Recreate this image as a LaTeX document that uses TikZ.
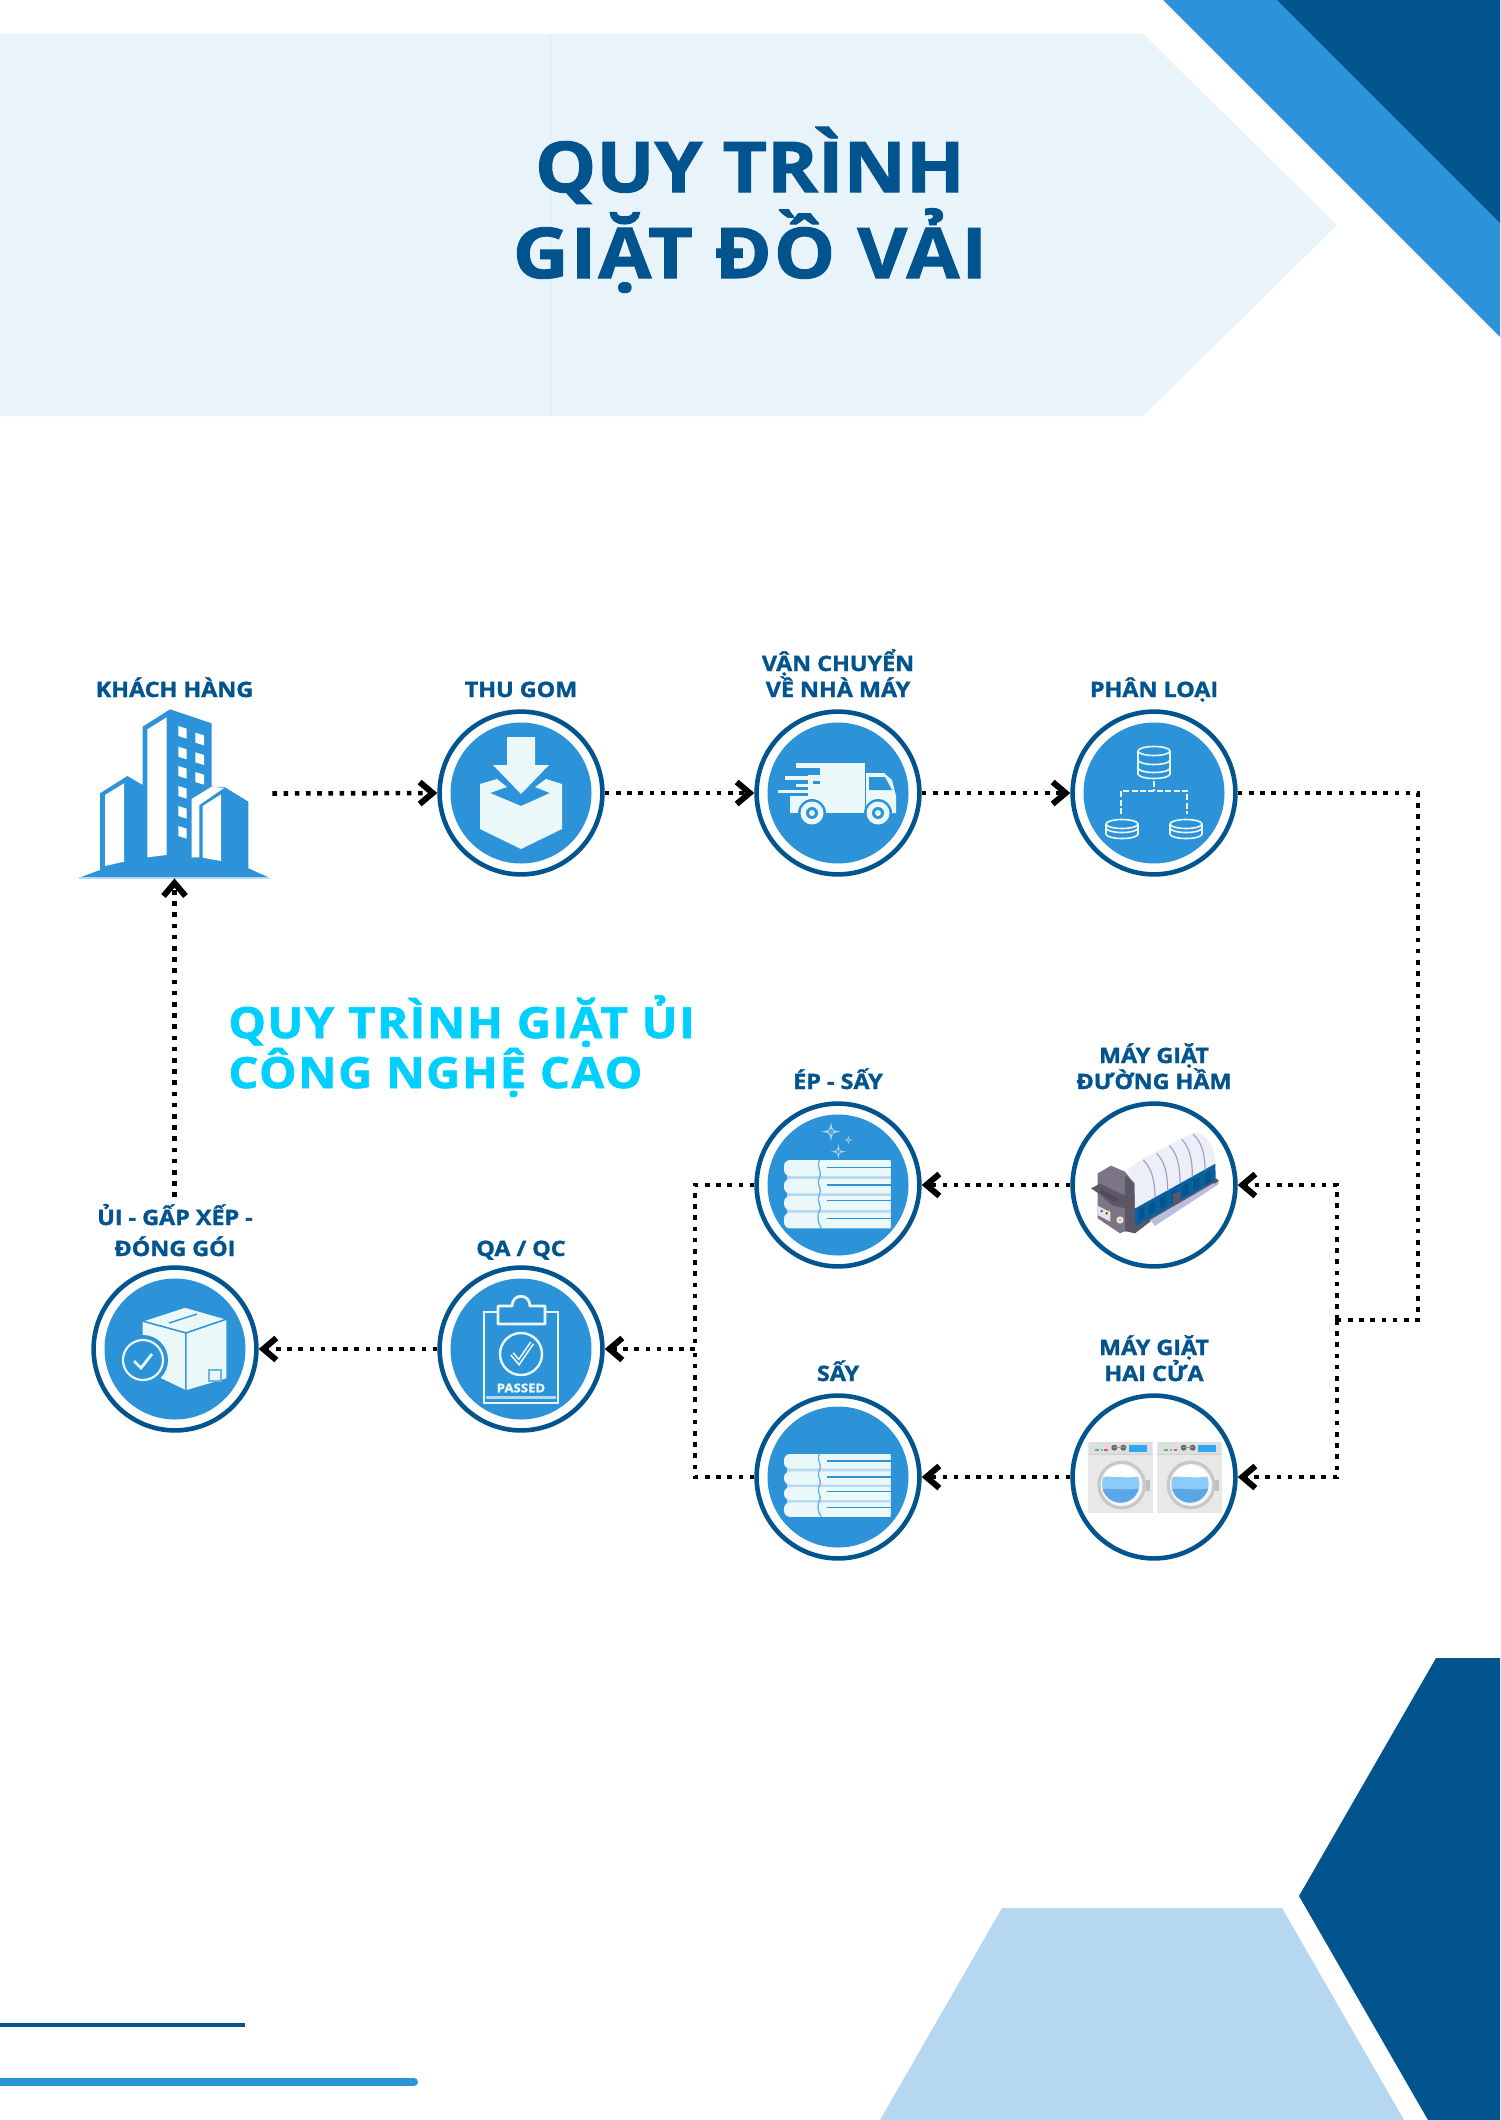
\documentclass[tikz,border=0pt]{standalone}
\usepackage{fontspec}
\usetikzlibrary{arrows.meta}
\newfontfamily\mfont[FakeStretch=1.1,BoldFeatures={FakeBold=1.5}]{Open Sans}
\newfontfamily\subfont[FakeStretch=1.1,LetterSpace=3.5,BoldFeatures={FakeBold=1.5}]{Open Sans}
\newfontfamily\tfont[FakeStretch=1.1,LetterSpace=3,BoldFeatures={FakeBold=1.5}]{Open Sans}
\definecolor{bannerc}{HTML}{E8F3FA}
\definecolor{seamc}{HTML}{E0EEF8}
\definecolor{darkb}{HTML}{02548F}
\definecolor{midb}{HTML}{2D93D8}
\definecolor{lightb}{HTML}{B5D8F0}
\definecolor{cyanb}{HTML}{00D0FF}
\definecolor{palec}{HTML}{EAF8FA}
\definecolor{headc}{HTML}{7B7585}
\definecolor{headd}{HTML}{5C5766}
\definecolor{hopc}{HTML}{4E4A58}
\definecolor{domec}{HTML}{EDEEF8}
\definecolor{ribc}{HTML}{9DA3C8}
\definecolor{platc}{HTML}{B9BEDF}
\definecolor{waterl}{HTML}{8CCBF7}
\definecolor{waterd}{HTML}{5AA6E6}
\definecolor{dispc}{HTML}{2FA8F0}
\tikzset{
  ringnode/.style={circle,draw=darkb,line width=2.3pt,fill=white,minimum size=81.4pt,inner sep=0pt},
  lab/.style={font=\mfont\bfseries\fontsize{10.6}{13}\selectfont,text=darkb,align=center,anchor=base,inner sep=0pt},
  conn/.style={draw=black,line width=2.3pt,dash pattern=on 2.3pt off 3.3pt},
  arr/.style={conn,-{Straight Barb[length=6.5pt,width=11pt,line width=3pt]}},
  wl/.style={draw=palec,line width=.7pt},
}
\newcommand{\towels}[2]{%
  \begin{scope}[shift={#1},xscale=1/3,yscale=#2/3]
    \fill[lightb] (82,155) rectangle (392,350);
    \foreach \ya/\yb in {150/198,207/250,258/300,308/355}{
      \fill[palec] (392,\ya) [rounded corners=3pt] -- (72,\ya) -- (72,\yb) [sharp corners] -- (392,\yb) -- cycle;
    }
    \draw[midb!70,line width=.7pt] (178,150) .. controls (168,175) and (188,180) .. (178,204) .. controls (168,230) and (188,230) .. (178,254) .. controls (168,280) and (188,285) .. (178,304) .. controls (168,325) and (178,345) .. (184,355);
    \foreach \yl in {173,225,272,325}{
      \draw[midb,line width=.8pt] (200,\yl) -- (392,\yl);
    }
  \end{scope}}
\newcommand{\spark}[3]{%
  \fill[lightb] (#1,#2-#3) .. controls (#1+.12*#3,#2-.12*#3) .. (#1+#3,#2) .. controls (#1+.12*#3,#2+.12*#3) .. (#1,#2+#3) .. controls (#1-.12*#3,#2+.12*#3) .. (#1-#3,#2) .. controls (#1-.12*#3,#2-.12*#3) .. (#1,#2-#3) -- cycle;
  \fill[midb!70!lightb] (#1,#2) circle ({.28*#3});
}
\newcommand{\washer}[1]{%
  \begin{scope}[shift={(#1,0)}]
    \fill[black!9] (38,125) rectangle (234,340);
    \fill[black!13] (42,125) rectangle (230,165);
    \fill[black!18] (38,162) rectangle (234,166);
    \fill[green!70!black!70] (60,147) rectangle (72,153);
    \fill[cyan!70] (77,147) rectangle (84,153);
    \fill[red!70] (88,147) rectangle (99,153);
    \fill[black!60] (118,143) circle (9);
    \fill[black!60] (145,143) circle (9);
    \fill[black!40] (113,141) rectangle (150,145);
    \fill[dispc] (162,135) rectangle (216,156);
    \fill[black!25] (212,240) rectangle (224,272);
    \fill[black!22] (140,255) circle (73);
    \fill[black!4] (140,255) circle (63);
    \begin{scope}
      \clip (137,252) circle (56);
      \fill[white] (70,190) rectangle (210,320);
      \fill[waterl] (70,232) .. controls (110,225) and (160,240) .. (210,225) -- (210,320) -- (70,320) -- cycle;
      \fill[waterd] (70,268) .. controls (110,262) and (160,275) .. (210,262) -- (210,320) -- (70,320) -- cycle;
    \end{scope}
  \end{scope}}
\newcommand{\dbcyl}[4]{% cx, top, bottom, mids
  \draw[wl,line width=.8pt] (#1-16,#2) -- (#1-16,#3) arc[start angle=180,end angle=360,x radius=16,y radius=-4.5] -- (#1+16,#2);
  \draw[wl,line width=.8pt] (#1,#2) ellipse[x radius=16,y radius=4.5];
  \foreach \ym in {#4}{\draw[wl,line width=.8pt] (#1-16,\ym) arc[start angle=180,end angle=360,x radius=16,y radius=-4.5];}
}
\begin{document}
\begin{tikzpicture}[x=0.5pt,y=-0.5pt]
\useasboundingbox (0,0) rectangle (1500,2120);
\fill[white] (0,0) rectangle (1500,2120);
% background
\fill[bannerc] (0,34) -- (1143,34) -- (1337,225) -- (1143,416) -- (0,416) -- cycle;
\draw[seamc,line width=.5pt] (551,34) -- (551,416);
\fill[midb] (1163,0) -- (1500,0) -- (1500,337) -- cycle;
\fill[darkb] (1277,0) -- (1500,0) -- (1500,223) -- cycle;
\fill[darkb] (1436,1658) -- (1500,1658) -- (1500,2120) -- (1428,2120) -- (1299,1896) -- cycle;
\fill[lightb] (1002,1908) -- (1282,1908) -- (1404,2120) -- (880,2120) -- cycle;
\draw[darkb,line width=2pt] (0,2025) -- (245,2025);
\draw[midb,line width=4pt,line cap=round] (-10,2082) -- (414,2082);
% title
\node[font=\mfont\bfseries\fontsize{35}{43}\selectfont,text=darkb,align=center,anchor=base,inner sep=0pt] (title1) at (750,192) {QUY TRÌNH};
\node[font=\tfont\bfseries\fontsize{35}{43}\selectfont,text=darkb,align=center,anchor=base,inner sep=0pt] (title2) at (750,278) {GIẶT ĐỒ VẢI};
\node[font=\subfont\bfseries\fontsize{21.5}{25}\selectfont,text=cyanb,anchor=base west,inner sep=0pt] (sub1) at (228,1038) {QUY TRÌNH GIẶT ỦI};
\node[font=\subfont\bfseries\fontsize{21.5}{25}\selectfont,text=cyanb,anchor=base west,inner sep=0pt] (sub2) at (228,1088) {CÔNG NGHỆ CAO};
% nodes
\node[minimum width=97.5pt,minimum height=84.5pt,inner sep=0pt] (kh) at (174.5,793.5) {};
\node[ringnode] (thu) at (521,793) {};
\node[ringnode] (van) at (838,793) {};
\node[ringnode] (phan) at (1154,793) {};
\node[ringnode] (duong) at (1154,1185) {};
\node[ringnode] (ep) at (838,1185) {};
\node[ringnode] (hai) at (1154,1477) {};
\node[ringnode] (say) at (838,1477) {};
\node[ringnode] (qa) at (521,1349) {};
\node[ringnode] (ui) at (175,1349) {};
% labels
\node[lab] (lkh) at (174.5,697) {KHÁCH HÀNG};
\node[lab] (lthu) at (521,697) {THU GOM};
\node[lab] (lvan) at (838,697) {VẬN CHUYỂN\\VỀ NHÀ MÁY};
\node[lab] (lphan) at (1154,697) {PHÂN LOẠI};
\node[lab] (lduong) at (1154,1089) {MÁY GIẶT\\ĐƯỜNG HẦM};
\node[lab] (lep) at (838,1089) {ÉP - SẤY};
\node[lab] (lhai) at (1154,1381) {MÁY GIẶT\\HAI CỬA};
\node[lab] (lsay) at (838,1381) {SẤY};
\node[lab] (lqa) at (521,1256) {QA / QC};
\node[lab,font=\mfont\bfseries\fontsize{10.6}{15.5}\selectfont] (lui) at (175,1256) {ỦI - GẤP XẾP -\\ĐÓNG GÓI};
% icon: building
\begin{scope}[shift={(70,700)},scale=1/3]
  \fill[midb] (28,533) -- (90,510) -- (90,280) -- (172,228) -- (218,255) -- (218,80) -- (300,28) -- (425,70) -- (425,260) -- (465,262) -- (535,305) -- (535,505) -- (598,533) -- cycle;
  \fill[white] (232,88) -- (290,52) -- (290,465) -- (232,472) -- cycle;
  \fill[white] (105,285) -- (162,250) -- (162,485) -- (105,498) -- cycle;
  \fill[white] (365,472) -- (388,472) -- (388,315) -- (462,264) -- (425,260) -- (365,297) -- cycle;
  \fill[white] (398,318) -- (453,283) -- (453,483) -- (398,473) -- cycle;
  \foreach \yw in {78,140,198,258,318,378}{\fill[white] (325,\yw) -- (350,\yw+8) -- (350,\yw+38) -- (325,\yw+30) -- cycle;}
  \foreach \yw in {98,157,216}{\fill[white] (376,\yw) -- (402,\yw+8) -- (402,\yw+38) -- (376,\yw+30) -- cycle;}
  \draw[lightb,line width=.6pt] (28,534) -- (598,534);
\end{scope}
% icon: thu gom
\begin{scope}[shift={(thu.center)}]
  \fill[midb] (0,0) circle (70.5);
  \fill[palec] (-41,-9) -- (-24,-14) -- (-14,-6) -- (-31,0) -- (0,13) -- (29,0) -- (14,-6) -- (25,-14) -- (41,-9) -- (41,36) -- (0,56) -- (-41,36) -- cycle;
  \fill[palec] (-14,-56) -- (14,-56) -- (14,-28) -- (28,-28) -- (0,1) -- (-28,-28) -- (-14,-28) -- cycle;
\end{scope}
% icon: truck
\begin{scope}[shift={(van.center)}]
  \fill[midb] (0,0) circle (70.5);
  \fill[palec] (-42,-30) rectangle (27,-25);
  \fill[palec] (-30,-25) rectangle (27,20);
  \fill[palec] (-53,-17) rectangle (-18,-13);
  \fill[palec] (-42,-9) rectangle (-25,-6);
  \fill[palec] (-60,-3) rectangle (-25,0);
  \fill[palec] (-48,3) rectangle (-25,20);
  \fill[midb] (-30,-25) rectangle (-18,-18);
  \fill[midb] (-25,-12.5) rectangle (-18,-9.5);
  \fill[palec] (28,-20) -- (46,-20) -- (54,-13) -- (58,3) -- (58,20) -- (28,20) -- cycle;
  \fill[midb] (31,-16) -- (47,-16) -- (54,-3) -- (31,-3) -- cycle;
  \foreach \xw in {-26,40}{
    \fill[midb] (\xw,20) circle (14);
    \fill[palec] (\xw,20) circle (11.5);
    \fill[midb] (\xw,20) circle (6);
    \fill[palec] (\xw,20) circle (3);
  }
\end{scope}
% icon: phan loai
\begin{scope}[shift={(phan.center)}]
  \fill[midb] (0,0) circle (70.5);
  \dbcyl{0}{-42}{-19}{-33,-25}
  \dbcyl{-32}{31}{41}{35}
  \dbcyl{32}{31}{41}{35}
  \draw[wl,dashed,line width=.8pt,dash pattern=on 3pt off 1.2pt] (0,-12) -- (0,-2);
  \draw[wl,dashed,line width=.8pt,dash pattern=on 3pt off 1.2pt] (-33,21) -- (-33,-2) -- (33,-2) -- (33,21);
\end{scope}
% icon: tunnel machine
\begin{scope}[shift={(1075,1105)},scale=1/3]
  \fill[platc] (225,340) -- (240,362) -- (432,235) -- (420,222) -- cycle;
  \fill[headd] (135,375) -- (180,385) -- (232,345) -- (432,228) -- (424,220) -- (200,335) -- cycle;
  \fill[platc] (225,345) -- (240,362) -- (430,238) -- (415,235) -- cycle;
  \fill[darkb!80!midb] (175,310) -- (421,175) -- (422,225) -- (180,365) -- cycle;
  \foreach \xp/\yp in {190/315,222/298,255/280,288/262,322/244,355/225,390/207}{
    \fill[darkb] (\xp,\yp) -- (\xp+18,\yp-10) -- (\xp+18,\yp+22) -- (\xp,\yp+32) -- cycle;
  }
  \fill[domec] (155,195) -- (205,160) -- (320,100) -- (360,82) .. controls (395,85) and (422,130) .. (422,175) -- (180,310) .. controls (180,260) and (175,225) .. (155,195) -- cycle;
  \foreach \xa/\ya/\xb/\yb in {205/165/240/278,245/145/278/258,283/122/315/235,320/103/352/215,355/88/390/195}{
    \draw[ribc,line width=.6pt] (\xa,\ya) .. controls (\xa+25,\ya+25) and (\xb,\yb-50) .. (\xb,\yb);
  }
  \fill[headd] (292,268) -- (315,260) -- (316,292) -- (294,302) -- cycle;
  \fill[headc] (68,205) -- (108,182) -- (150,200) -- (178,235) -- (180,365) -- (135,385) -- (68,340) -- cycle;
  \fill[headd] (150,210) -- (178,235) -- (180,365) -- (150,380) -- cycle;
  \fill[headd] (48,250) -- (75,236) -- (150,272) -- (150,310) -- (110,300) -- (75,268) -- cycle;
  \fill[hopc] (80,255) -- (130,280) -- (120,292) -- (78,265) -- cycle;
  \fill[white!90!black] (68,302) -- (106,322) -- (106,350) -- (68,330) -- cycle;
  \fill[black!70] (80,318) circle (4);
  \fill[black!70] (95,325) circle (4);
  \fill[yellow!80!orange] (103,318) circle (2.5);
  \fill[white!90!black] (135,345) circle (11);
  \fill[orange!80] (135,345) circle (3.5);
\end{scope}
% icon: washers
\begin{scope}[shift={(1075,1400)},scale=1/3]
  \washer{0}
  \washer{208}
\end{scope}
% icon: towels
\begin{scope}[shift={(ep.center)}]
  \fill[midb] (0,0) circle (70.5);
\end{scope}
\towels{(760,1110)}{1}
\begin{scope}[shift={(760,1110)},scale=1/3]
  \spark{213}{65}{30}
  \spark{265}{90}{14}
  \spark{235}{125}{23}
\end{scope}
\begin{scope}[shift={(say.center)}]
  \fill[midb] (0,0) circle (70.5);
\end{scope}
\towels{(760,1408)}{.92}
% icon: QA
\begin{scope}[shift={(qa.center)}]
  \fill[midb] (0,0) circle (70.5);
  \draw[palec,line width=1.4pt] (-37,-37) rectangle (37,54);
  \fill[lightb] (-35,47) rectangle (35,50);
  \draw[palec,fill=midb,line width=1.4pt,line join=round] (-23,-25) -- (-23,-43) -- (-9,-43) .. controls (-9,-56) and (9,-56) .. (9,-43) -- (24,-43) -- (24,-25) -- cycle;
  \draw[palec,line width=1.2pt] (0,5) circle (21);
  \draw[palec,line width=2.4pt] (-9,5) -- (-2,13) -- (11,-6);
  \draw[midb,line width=.7pt] (-9,5) -- (-2,13) -- (11,-6);
  \node[font=\mfont\bfseries\fontsize{6}{7}\selectfont,text=palec,inner sep=0pt] (passed) at (0,39) {PASSED};
\end{scope}
% icon: box
\begin{scope}[shift={(ui.center)}]
  \fill[midb] (0,0) circle (70.5);
  \fill[palec,draw=midb,line width=.7pt,line join=round] (10,-42) -- (-33,-28) -- (11,-16) -- (52,-30) -- cycle;
  \fill[palec,draw=midb,line width=.7pt,line join=round] (-33,-28) -- (11,-16) -- (11,42) -- (-33,21) -- cycle;
  \fill[palec,draw=midb,line width=.7pt,line join=round] (11,-16) -- (52,-30) -- (52,30) -- (11,42) -- cycle;
  \draw[midb,line width=.7pt] (-6,-26) -- (22,-35);
  \draw[midb!70,line width=.6pt] (34,21) rectangle (46,32);
  \fill[midb] (-32,11) circle (25);
  \draw[palec,line width=1.1pt] (-32,11) circle (20);
  \draw[palec,line width=1.4pt] (-41,12) -- (-34,19) -- (-23,5);
\end{scope}
% connectors
\coordinate (uitop) at (174.5,1197);
\coordinate (splitR) at (1337,1320);
\coordinate (busBR) at (1418,1320);
\coordinate (splitL) at (695,1349);
\draw[arr] (kh.east) -- (thu.west);
\draw[arr] (thu.east) -- (van.west);
\draw[arr] (van.east) -- (phan.west);
\draw[conn] (phan.east) -| (busBR) -- (splitR);
\draw[arr] (splitR) |- (duong.east);
\draw[arr] (splitR) |- (hai.east);
\draw[arr] (duong.west) -- (ep.east);
\draw[arr] (hai.west) -- (say.east);
\draw[conn] (ep.west) -| (splitL);
\draw[conn] (say.west) -| (splitL);
\draw[arr] (splitL) -- (qa.east);
\draw[arr] (qa.west) -- (ui.east);
\draw[arr] (uitop) -- (kh.south);
\end{tikzpicture}
\end{document}
